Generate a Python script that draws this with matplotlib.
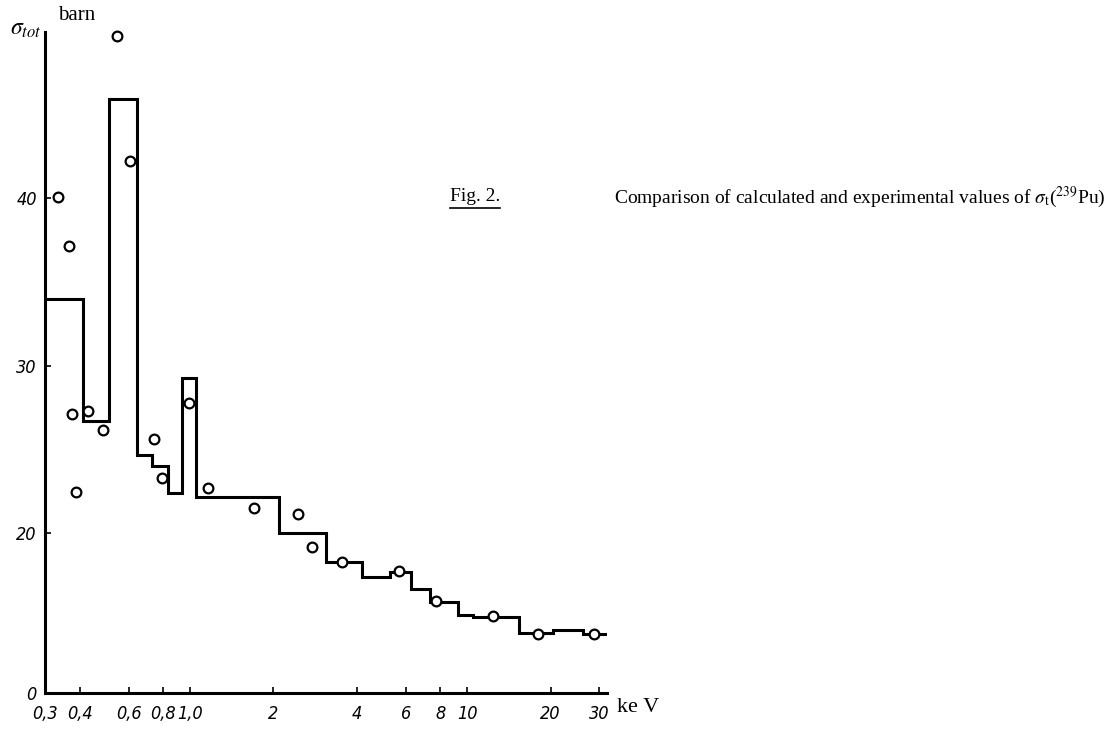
import numpy as np
import matplotlib
matplotlib.use("Agg")
import matplotlib.pyplot as plt
from matplotlib.lines import Line2D

# calculated group values (step line): bin edges in keV, sigma_tot in barn
edges = [0.3, 0.41, 0.51, 0.643, 0.729, 0.833, 0.936, 1.05, 2.10, 3.10, 4.18,
         5.27, 6.28, 7.35, 9.28, 10.5, 15.4, 20.4, 26.2, 32.0]
calc = [34.0, 26.7, 45.9, 24.66, 24.0, 22.4, 29.25, 22.15, 20.0, 18.27, 17.37,
        17.65, 16.66, 15.88, 15.1, 14.98, 14.03, 14.2, 14.0]

# experimental points
exp_e = [0.334, 0.366, 0.375, 0.388, 0.428, 0.485, 0.545, 0.607, 0.741, 0.792,
         0.99, 1.16, 1.70, 2.45, 2.76, 3.54, 5.68, 7.73, 12.4, 18.0, 28.7]
exp_s = [40.06, 37.13, 27.1, 22.45, 27.28, 26.15, 49.67, 42.2, 25.6, 23.28,
         27.76, 22.69, 21.49, 21.13, 19.16, 18.27, 17.73, 15.94, 15.04, 13.97, 13.97]

xticks = [0.3, 0.4, 0.6, 0.8, 1.0, 2, 4, 6, 8, 10, 20, 30]
xlabels = ["0,3", "0,4", "0,6", "0,8", "1,0", "2", "4", "6", "8", "10", "20", "30"]
yticks = [0, 20, 30, 40]

plt.rcParams['mathtext.fontset'] = 'stix'


# y axis is compressed below ~12 barn (suppressed zero, as in the original)
def fwd(v):
    v = np.asarray(v, dtype=float)
    return np.where(v >= 12, v, 10.45 + v * (1.55 / 12))


def inv(u):
    u = np.asarray(u, dtype=float)
    return np.where(u >= 12, u, (u - 10.45) * 12 / 1.55)


fig = plt.figure(figsize=(11.11, 7.29), dpi=100)
ax = fig.add_axes([0.0407, 0.0494, 0.5057, 0.9067])

ax.stairs(calc, edges, color="black", lw=2.2, baseline=None)
ax.plot(exp_e, exp_s, "o", ms=7, mfc="white", mec="black", mew=1.6,
        clip_on=False, zorder=3)

ax.set_xscale("log")
ax.set_yscale("function", functions=(fwd, inv))
ax.set_xlim(0.3, 32)
ax.set_ylim(0, 49.91)

ax.set_xticks(xticks)
ax.set_xticklabels(xlabels)
ax.xaxis.set_minor_locator(matplotlib.ticker.NullLocator())
ax.set_yticks(yticks)
ax.set_yticklabels([str(t) for t in yticks])
ax.yaxis.set_minor_locator(matplotlib.ticker.NullLocator())

for lab in ax.get_xticklabels() + ax.get_yticklabels():
    lab.set_fontstyle("italic")
    lab.set_fontsize(13)
    lab.set_fontstretch("condensed")
ax.tick_params(direction="in", length=4, width=1.2)
ax.tick_params(axis="x", pad=9)
ax.tick_params(axis="y", pad=6)

for s in ["top", "right"]:
    ax.spines[s].set_visible(False)
for s in ["left", "bottom"]:
    ax.spines[s].set_linewidth(2.2)

# axis captions
fig.text(10 / 1111, 1 - 28 / 729, r"$\sigma_{tot}$", fontsize=17, va="center")
fig.text(58 / 1111, 1 - 16 / 729, "barn", fontsize=15, family="Liberation Serif",
         va="center")
fig.text(617 / 1111, 1 - 708 / 729, "ke V", fontsize=16, family="Liberation Serif",
         va="center")

# figure caption
t1 = fig.text(450 / 1111, 1 - 197 / 729, "Fig. 2.", fontsize=14,
              family="Liberation Serif", va="center")
fig.text(614 / 1111, 1 - 197 / 729,
         r"Comparison of calculated and experimental values of $\sigma_{\rm t}$($^{239}$Pu)",
         fontsize=14, family="Liberation Serif", va="center")

fig.canvas.draw()
bb = t1.get_window_extent().transformed(fig.transFigure.inverted())
fig.add_artist(Line2D([bb.x0, bb.x1], [bb.y0 - 0.004, bb.y0 - 0.004],
                      color="black", lw=1.2, transform=fig.transFigure))

fig.savefig("out.png", dpi=100, facecolor="white")
